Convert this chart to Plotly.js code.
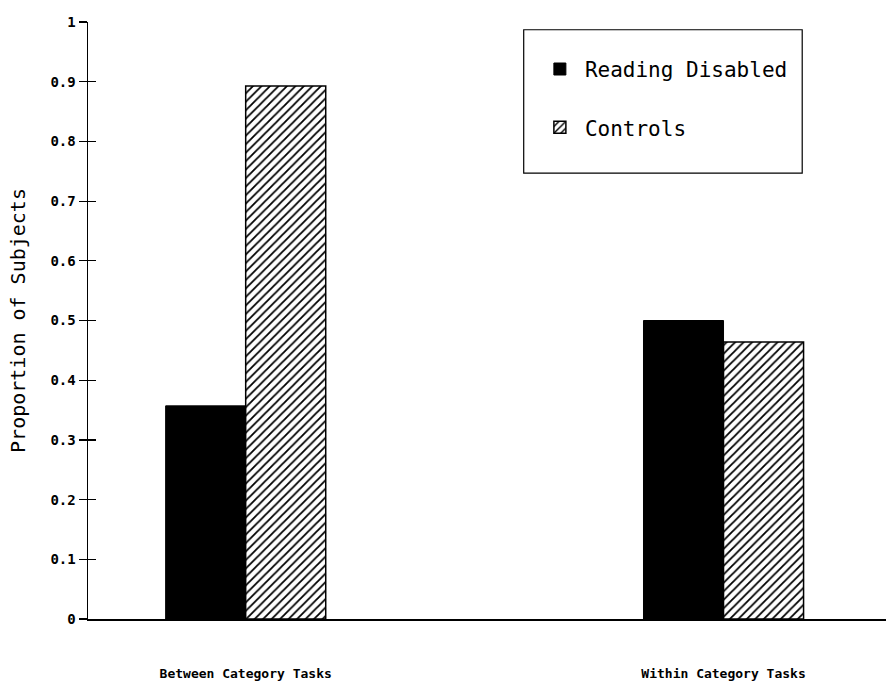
<!DOCTYPE html>
<html>
<head>
<meta charset="utf-8">
<script src="https://cdn.plot.ly/plotly-3.0.1.min.js"></script>
<style>html,body{margin:0;padding:0;background:#fff;}#chart{width:886px;height:685px;}</style>
</head>
<body>
<div id="chart"></div>
<script>
var categories = ["Between Category Tasks", "Within Category Tasks"];
var readingDisabled = [0.357, 0.5];
var controls = [0.893, 0.464];
var yTickVals = [0, 0.1, 0.2, 0.3, 0.4, 0.5, 0.6, 0.7, 0.8, 0.9, 1];
var yTickText = ["0", "0.1", "0.2", "0.3", "0.4", "0.5", "0.6", "0.7", "0.8", "0.9", "1"];

var mono = "DejaVu Sans Mono, monospace";

var traces = [
  {
    type: "bar", name: "Reading Disabled", x: [0, 1], y: readingDisabled,
    marker: {color: "#000", line: {color: "#000", width: 1}},
    legendgroup: "a"
  },
  {
    type: "bar", name: "Controls", x: [0, 1], y: controls,
    marker: {color: "#fff", line: {color: "#000", width: 1.5},
      pattern: {shape: "/", fgcolor: "#000", bgcolor: "#fff", size: 6, solidity: 0.3}},
    legendgroup: "b"
  },
  {
    type: "scatter", x: [0], y: [0], yaxis: "y2", mode: "markers",
    marker: {opacity: 0}, showlegend: false, hoverinfo: "skip"
  }
];

var layout = {
  width: 886, height: 685,
  margin: {l: 88, r: 0, t: 22, b: 66},
  paper_bgcolor: "#fff", plot_bgcolor: "#fff",
  barmode: "group", bargap: 0.665, bargroupgap: 0,
  showlegend: true,
  legend: {
    x: 0.56, y: 0.955, xanchor: "left", yanchor: "top",
    borderwidth: 0, bgcolor: "rgba(0,0,0,0)",
    font: {family: mono, size: 21, color: "#000"},
    tracegroupgap: 28, traceorder: "grouped", itemwidth: 40
  },
  shapes: [{
    type: "rect", xref: "paper", yref: "paper",
    x0: 0.546, x1: 0.895, y0: 0.747, y1: 0.987,
    line: {color: "#000", width: 1.2}, fillcolor: "rgba(0,0,0,0)", layer: "below"
  }],
  xaxis: {
    range: [-0.33, 1.34], tickvals: [0, 1], ticktext: categories,
    showline: true, linecolor: "#000", linewidth: 1.5,
    ticks: "", showgrid: false, zeroline: false,
    ticklabelstandoff: 42,
    tickfont: {family: mono, size: 13, color: "#000", weight: "bold"}
  },
  yaxis: {
    range: [0, 1], tickvals: yTickVals, ticktext: yTickText,
    showline: true, linecolor: "#000", linewidth: 1.5,
    ticks: "outside", ticklen: 8, tickwidth: 1.2, tickcolor: "#000",
    showgrid: false, zeroline: false,
    tickfont: {family: mono, size: 14, color: "#000", weight: "bold"},
    title: {text: "Proportion of Subjects", font: {family: mono, size: 20, color: "#000"}, standoff: 19}
  },
  yaxis2: {
    overlaying: "y", range: [0, 1], tickvals: yTickVals, showticklabels: false,
    ticks: "inside", ticklen: 8, tickwidth: 1.2, tickcolor: "#000",
    showgrid: false, zeroline: false, showline: false, side: "left"
  }
};

Plotly.newPlot("chart", traces, layout, {displayModeBar: false, staticPlot: true});
</script>
</body>
</html>
